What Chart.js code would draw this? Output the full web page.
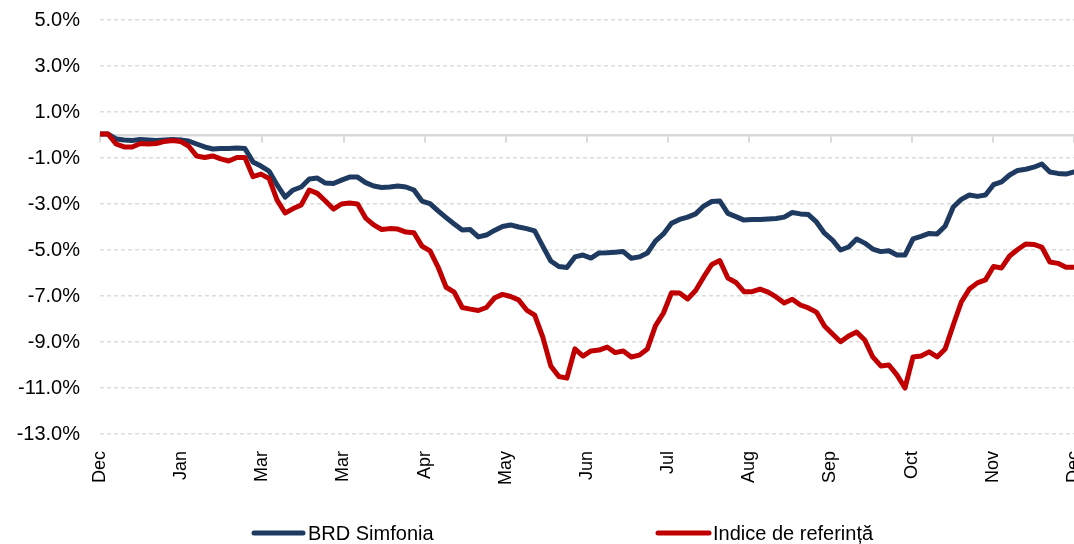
<!DOCTYPE html>
<html>
<head>
<meta charset="utf-8">
<script src="https://cdn.jsdelivr.net/npm/chart.js@4.4.1/dist/chart.umd.min.js"></script>
<style>
  html, body { margin: 0; padding: 0; background: #ffffff; overflow: hidden; width: 1074px; height: 544px; }
  #wrap { position: absolute; left: 0; top: 0; width: 1090px; height: 544px; }
</style>
</head>
<body>
<div id="wrap"><canvas id="c" width="1090" height="544"></canvas></div>
<script>
// ---- data ----
const seriesNames = ['BRD Simfonia', 'Indice de referință'];
const monthLabels = ['Dec', 'Jan', 'Mar', 'Mar', 'Apr', 'May', 'Jun', 'Jul', 'Aug', 'Sep', 'Oct', 'Nov', 'Dec'];
const yTickValues = [-13, -11, -9, -7, -5, -3, -1, 1, 3, 5];

const brdSimfonia = [
  0.04, 0.04, -0.17, -0.22, -0.24, -0.20, -0.22, -0.24, -0.22, -0.20,
  -0.22, -0.26, -0.39, -0.52, -0.61, -0.59, -0.59, -0.57, -0.59, -1.17,
  -1.35, -1.57, -2.17, -2.70, -2.39, -2.26, -1.91, -1.87, -2.09, -2.11,
  -1.96, -1.83, -1.83, -2.07, -2.22, -2.28, -2.26, -2.22, -2.26, -2.39,
  -2.87, -2.98, -3.30, -3.59, -3.87, -4.13, -4.11, -4.43, -4.35, -4.15,
  -3.98, -3.91, -4.00, -4.07, -4.17, -4.83, -5.48, -5.72, -5.76, -5.30,
  -5.22, -5.35, -5.13, -5.12, -5.10, -5.07, -5.36, -5.30, -5.13, -4.61,
  -4.30, -3.84, -3.67, -3.57, -3.43, -3.09, -2.89, -2.87, -3.41, -3.55,
  -3.70, -3.67, -3.67, -3.65, -3.63, -3.57, -3.37, -3.43, -3.46, -3.78,
  -4.27, -4.57, -5.00, -4.87, -4.52, -4.70, -4.96, -5.07, -5.03, -5.22,
  -5.22, -4.52, -4.41, -4.28, -4.30, -3.96, -3.13, -2.80, -2.61, -2.67,
  -2.61, -2.16, -2.04, -1.74, -1.54, -1.49, -1.40, -1.26, -1.61, -1.67,
  -1.70, -1.61
];

const indiceReferinta = [
  0.04, 0.04, -0.39, -0.52, -0.52, -0.37, -0.39, -0.37, -0.28, -0.24,
  -0.28, -0.48, -0.91, -0.98, -0.91, -1.04, -1.13, -0.98, -0.98, -1.81,
  -1.70, -1.89, -2.83, -3.39, -3.20, -3.04, -2.39, -2.54, -2.87, -3.22,
  -3.00, -2.96, -3.00, -3.61, -3.91, -4.11, -4.07, -4.09, -4.22, -4.25,
  -4.83, -5.04, -5.74, -6.62, -6.83, -7.50, -7.57, -7.63, -7.50, -7.09,
  -6.93, -7.02, -7.17, -7.61, -7.83, -8.78, -10.04, -10.50, -10.57, -9.30,
  -9.61, -9.39, -9.35, -9.22, -9.46, -9.39, -9.65, -9.57, -9.30, -8.30,
  -7.74, -6.86, -6.87, -7.13, -6.76, -6.17, -5.63, -5.46, -6.22, -6.41,
  -6.81, -6.81, -6.70, -6.83, -7.04, -7.30, -7.14, -7.39, -7.52, -7.70,
  -8.30, -8.65, -8.99, -8.74, -8.57, -8.91, -9.65, -10.04, -10.00, -10.43,
  -11.00, -9.65, -9.61, -9.43, -9.65, -9.30, -8.26, -7.26, -6.70, -6.43,
  -6.30, -5.72, -5.78, -5.26, -4.98, -4.74, -4.76, -4.87, -5.52, -5.58,
  -5.75, -5.75
];

// ---- chart ----
const seriesColors = ['#1f3a60', '#c00000'];
const idx = brdSimfonia.map((_, i) => i);
const lastIdx = idx.length - 1;
const monthTicks = () => monthLabels.map((_, k) => ({ value: k * lastIdx / (monthLabels.length - 1) }));

Chart.defaults.font.family = "'Liberation Sans', Arial, sans-serif";
Chart.defaults.color = '#000000';

const customLegend = {
  id: 'customLegend',
  afterDraw(chart) {
    const ctx = chart.ctx;
    const items = [
      { x1: 254, x2: 303, tx: 308 },
      { x1: 658, x2: 709, tx: 713 }
    ];
    ctx.save();
    ctx.font = "20px 'Liberation Sans', Arial, sans-serif";
    ctx.textBaseline = 'alphabetic';
    ctx.textAlign = 'left';
    items.forEach((it, i) => {
      ctx.strokeStyle = seriesColors[i];
      ctx.lineWidth = 5;
      ctx.lineCap = 'round';
      ctx.beginPath();
      ctx.moveTo(it.x1, 533);
      ctx.lineTo(it.x2, 533);
      ctx.stroke();
      ctx.fillStyle = '#000000';
      ctx.fillText(seriesNames[i], it.tx, 540);
    });
    ctx.restore();
  }
};

new Chart(document.getElementById('c'), {
  type: 'line',
  data: {
    labels: idx,
    datasets: [
      {
        label: seriesNames[0],
        data: brdSimfonia,
        borderColor: seriesColors[0],
        backgroundColor: seriesColors[0],
        borderWidth: 5,
        pointRadius: 0,
        tension: 0,
        borderCapStyle: 'round',
        borderJoinStyle: 'round',
        order: 2
      },
      {
        label: seriesNames[1],
        data: indiceReferinta,
        borderColor: seriesColors[1],
        backgroundColor: seriesColors[1],
        borderWidth: 5,
        pointRadius: 0,
        tension: 0,
        borderCapStyle: 'round',
        borderJoinStyle: 'round',
        order: 1
      }
    ]
  },
  options: {
    responsive: false,
    animation: false,
    layout: { padding: { top: 20, right: 16, bottom: 0, left: 0 } },
    plugins: {
      legend: { display: false },
      tooltip: { enabled: false }
    },
    scales: {
      x: {
        type: 'linear',
        position: 'bottom',
        min: 0,
        max: lastIdx,
        afterBuildTicks: (s) => { s.ticks = monthTicks(); },
        afterFit: (s) => { s.height = 110; s.paddingLeft = 0; s.paddingRight = 0; },
        grid: { display: false, drawTicks: false },
        border: { display: false },
        ticks: {
          autoSkip: false,
          minRotation: 90,
          maxRotation: 90,
          padding: 17,
          font: { size: 18 },
          color: '#000000',
          callback: (v, i) => monthLabels[i]
        }
      },
      x2: {
        type: 'linear',
        axis: 'x',
        position: { y: 0 },
        min: 0,
        max: lastIdx,
        afterBuildTicks: (s) => { s.ticks = monthTicks(); },
        afterFit: (s) => { s.paddingLeft = 0; s.paddingRight = 0; },
        grid: { drawOnChartArea: false, drawTicks: true, tickLength: 6, color: '#d9d9d9', lineWidth: 2 },
        border: { display: true, color: '#d9d9d9', width: 2.5 },
        ticks: { display: false }
      },
      y: {
        type: 'linear',
        min: -13,
        max: 5,
        afterBuildTicks: (s) => { s.ticks = yTickValues.map(v => ({ value: v })); },
        afterFit: (s) => { s.width = 100; s.paddingTop = 0; s.paddingBottom = 0; },
        grid: { color: '#dcdcdc', lineWidth: 1.5, drawTicks: false },
        border: { display: false, dash: [4, 3] },
        ticks: {
          padding: 20,
          font: { size: 20 },
          color: '#000000',
          callback: (v) => v.toFixed(1) + '%'
        }
      }
    }
  },
  plugins: [customLegend]
});
</script>
</body>
</html>
